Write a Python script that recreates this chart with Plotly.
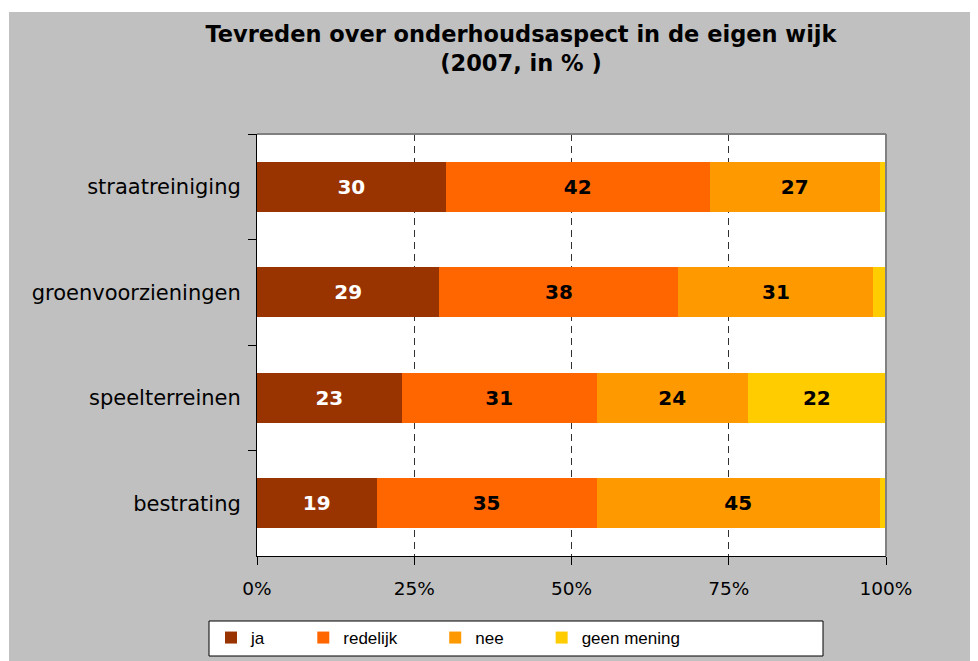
import plotly.graph_objects as go

categories = ["straatreiniging", "groenvoorzieningen", "speelterreinen", "bestrating"]
series_names = ["ja", "redelijk", "nee", "geen mening"]
ja = [30, 29, 23, 19]
redelijk = [42, 38, 31, 35]
nee = [27, 31, 24, 45]
geen_mening = [1, 2, 22, 1]
x_tickvals = [0, 25, 50, 75, 100]
x_ticktext = ["0%", "25%", "50%", "75%", "100%"]

colors = ["#993300", "#FF6600", "#FF9900", "#FFCC00"]
label_colors = ["white", "black", "black", "black"]

OFF = 8  # default body margin of the html page
W, H = 978 - OFF, 661 - OFF
L, R, T, B = 257 - OFF, 886 - OFF, 134 - OFF, 556 - OFF  # plot area in figure pixels


def px(xp):
    """page x pixel -> paper coordinate"""
    return (xp - OFF - L) / (R - L)


def py(yp):
    """page y pixel -> paper coordinate"""
    return (B - (yp - OFF)) / (B - T)


fig = go.Figure()
pad = "\u00a0" * 7
for name, vals, col, lc in zip(series_names, [ja, redelijk, nee, geen_mening], colors, label_colors):
    fig.add_trace(go.Bar(
        y=categories, x=vals, orientation="h", name=name + pad,
        marker=dict(color=col, line=dict(width=0)),
        text=[str(v) if v >= 5 else "" for v in vals],
        textposition="inside", insidetextanchor="middle", textangle=0,
        textfont=dict(family="DejaVu Sans", size=20, color=lc, weight="bold"),
        width=0.47, hoverinfo="x+name",
    ))

shapes = [
    # white outer margin strips (beyond the page's own 8px margin)
    dict(type="rect", xref="paper", yref="paper", x0=px(0), x1=px(990), y0=py(12), y1=py(0),
         fillcolor="white", line=dict(width=0), layer="above"),
    dict(type="rect", xref="paper", yref="paper", x0=px(0), x1=px(9), y0=py(670), y1=py(0),
         fillcolor="white", line=dict(width=0), layer="above"),
    # top and right plot border (gray)
    dict(type="line", xref="paper", yref="paper", x0=0, x1=1, y0=1, y1=1,
         line=dict(color="#808080", width=2), layer="above"),
    dict(type="line", xref="paper", yref="paper", x0=1, x1=1, y0=0, y1=1,
         line=dict(color="#808080", width=2), layer="above"),
    # legend box
    dict(type="rect", xref="paper", yref="paper", x0=px(209), x1=px(823), y0=py(656), y1=py(621),
         fillcolor="white", line=dict(color="black", width=1), layer="below"),
]

fig.update_layout(
    width=W, height=H,
    margin=dict(l=L, r=W - R, t=T, b=H - B, autoexpand=False),
    paper_bgcolor="#C0C0C0", plot_bgcolor="white",
    barmode="stack",
    title=dict(
        text="Tevreden over onderhoudsaspect in de eigen wijk<br>(2007, in % )",
        font=dict(family="DejaVu Sans", size=22.5, color="black", weight="bold"),
        x=(521 - OFF) / W, xref="container", xanchor="center",
        y=1 - 34 / H, yref="container", yanchor="top",
    ),
    xaxis=dict(
        range=[0, 100], tickmode="array", tickvals=x_tickvals, ticktext=x_ticktext,
        showgrid=True, gridcolor="#303030", gridwidth=1, griddash="7px,5px",
        zeroline=False, showline=True, linecolor="black", linewidth=1,
        ticks="outside", ticklen=8, tickcolor="black",
        tickfont=dict(family="DejaVu Sans", size=18.5, color="black"),
        ticklabelstandoff=8, fixedrange=True,
    ),
    yaxis=dict(
        categoryorder="array", categoryarray=categories, autorange="reversed",
        showgrid=False, zeroline=False, showline=True, linecolor="black", linewidth=1,
        ticks="outside", ticklen=8, tickcolor="black", tickson="boundaries",
        tickfont=dict(family="DejaVu Sans", size=21, color="black"),
        ticklabelstandoff=11, fixedrange=True,
    ),
    showlegend=True,
    legend=dict(
        orientation="h", xref="paper", yref="paper",
        x=px(211), xanchor="left", y=py(638), yanchor="middle",
        bgcolor="rgba(0,0,0,0)", borderwidth=0,
        font=dict(family="Liberation Sans", size=17, color="black"),
        traceorder="normal",
    ),
    shapes=shapes,
)

fig.write_html("out.html")
